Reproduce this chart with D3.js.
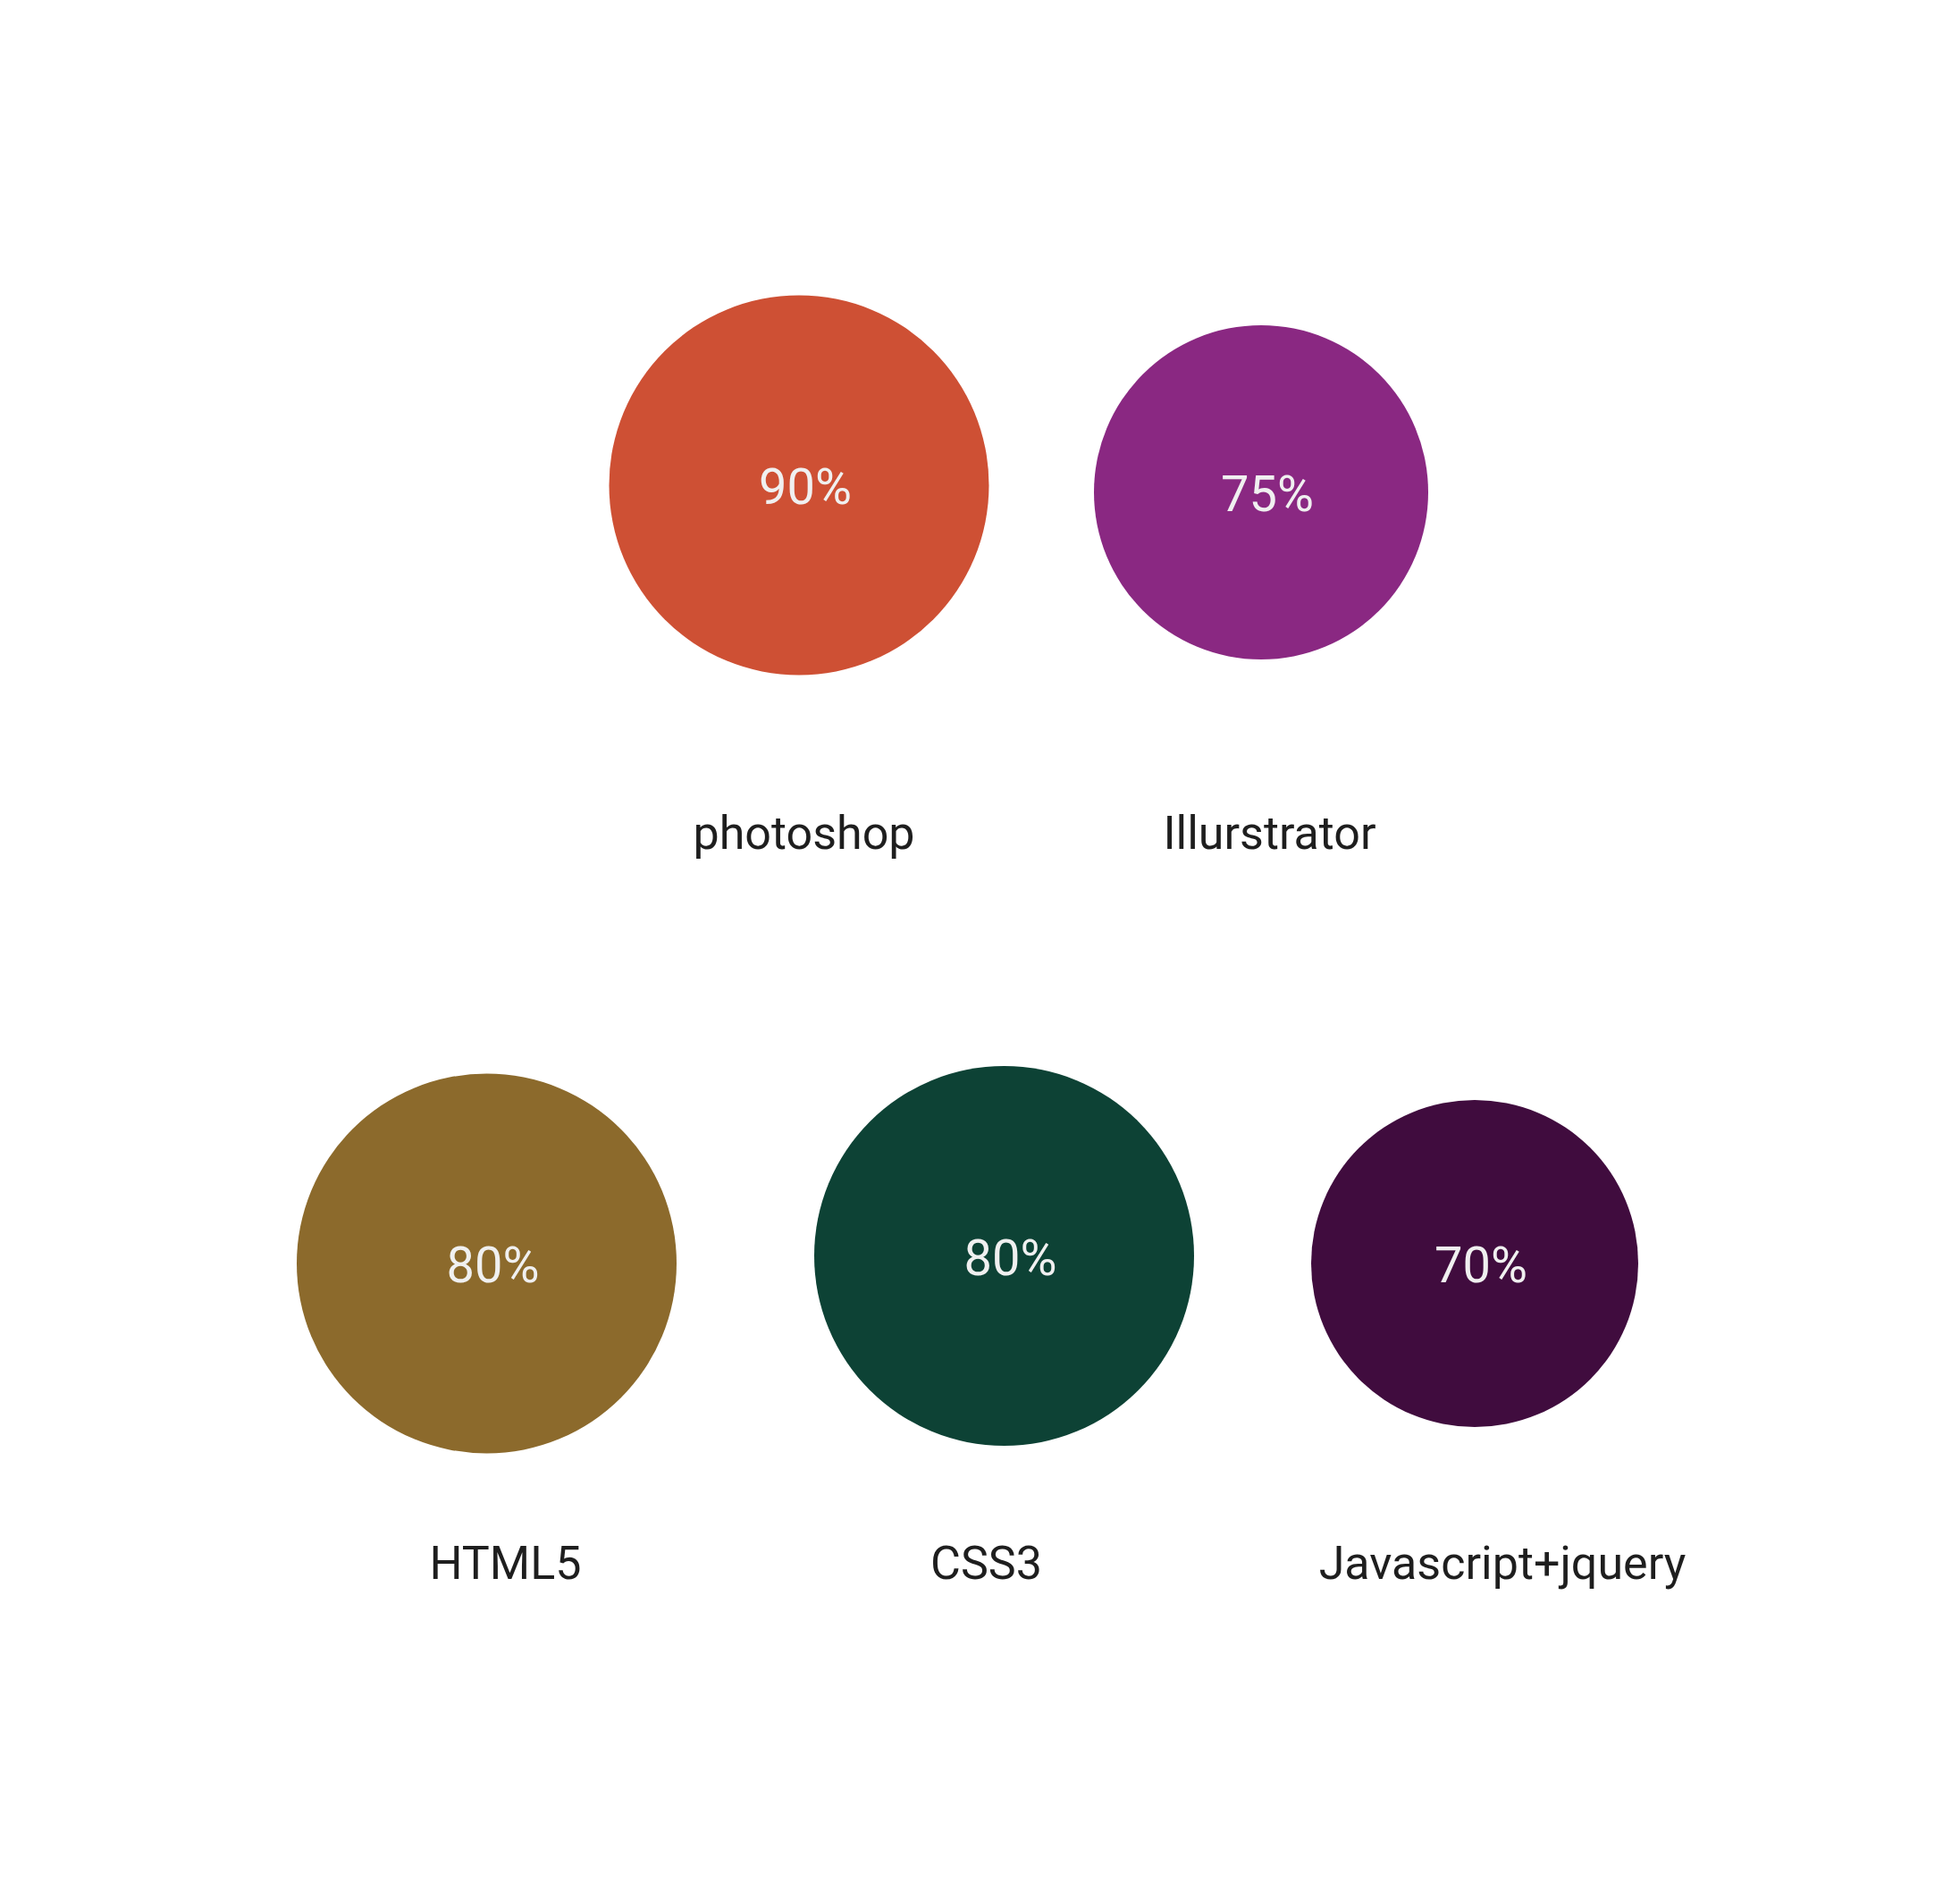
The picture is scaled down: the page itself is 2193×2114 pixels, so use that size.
<!DOCTYPE html>
<html>
<head>
<meta charset="utf-8">
<script src="https://cdn.jsdelivr.net/npm/d3@7"></script>
<style>
  html, body { margin: 0; padding: 0; background: #fff; }
  svg { display: block; }
</style>
</head>
<body>
<svg id="chart"></svg>
<script>
// skills + how good I am at them
let skills  = ["photoshop", "Illurstrator", "HTML5", "CSS3", "Javascript+jquery"];
let percent = [90, 75, 80, 80, 70];
let colours = ["#CE5034", "#8A2882", "#8C6A2C", "#0D4235", "#400C3E"];

// layout slots (circle centre + label x), not data
let slotX   = [894, 1411, 544.5, 1123.5, 1650];
let slotY   = [543, 551, 1414, 1405.5, 1414];
let labelX  = [899.5, 1420.5, 565.5, 1103.5, 1681];
let labelY  = [950, 950, 1767, 1767, 1767];

let width = 2193, height = 2114;

let svg = d3.select("#chart")
  .attr("width", width)
  .attr("height", height);

// bubble size
let r = d3.scaleLinear()
  .domain([70, 75, 80])
  .range([183, 187, 212.5])
  .clamp(true);

let data = skills.map((s, i) => ({
  name: s, value: percent[i], colour: colours[i],
  cx: slotX[i], cy: slotY[i], lx: labelX[i], ly: labelY[i]
}));

let g = svg.selectAll("g.skill")
  .data(data)
  .enter().append("g")
    .attr("class", "skill");

g.append("circle")
  .attr("cx", d => d.cx)
  .attr("cy", d => d.cy)
  .attr("r", d => r(d.value))
  .attr("fill", d => d.colour);

g.append("text")
  .attr("x", d => d.cx + 7)
  .attr("y", d => d.cy + 21)
  .attr("text-anchor", "middle")
  .style("font-family", "Roboto, 'Liberation Sans', sans-serif")
  .style("font-weight", 400)
  .style("font-size", "56px")
  .style("fill", "#F0F0F0")
  .text(d => d.value + "%");

g.append("text")
  .attr("x", d => d.lx)
  .attr("y", d => d.ly)
  .attr("text-anchor", "middle")
  .style("font-family", "Roboto, 'Liberation Sans', sans-serif")
  .style("font-weight", 400)
  .style("font-size", "52px")
  .style("fill", "#1e1e1e")
  .text(d => d.name);
</script>
</body>
</html>
